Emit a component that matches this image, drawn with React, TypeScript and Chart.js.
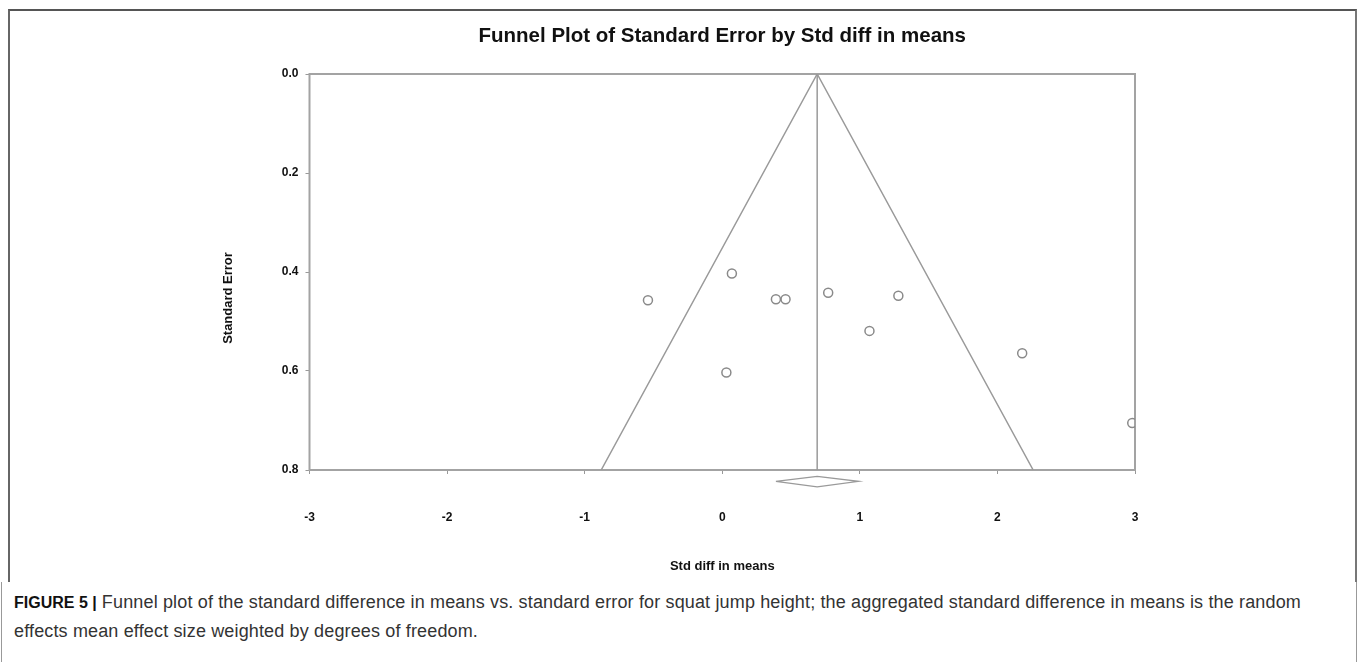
import React, { useEffect, useRef } from "react";
import { Chart, registerables } from "chart.js";
Chart.register(...registerables);

const chartTitle = "Funnel Plot of Standard Error by Std diff in means";
const xTitle = "Std diff in means";
const yTitle = "Standard Error";

const studyEffect = [-0.54, 0.07, 0.39, 0.46, 0.77, 1.28, 1.07, 2.18, 2.98, 0.03];
const studySE = [0.457, 0.403, 0.455, 0.455, 0.442, 0.448, 0.519, 0.564, 0.705, 0.603];

const funnelX = [-0.88, 0.69, 2.26];
const funnelY = [0.8, 0.0, 0.8];
const meanX = [0.69, 0.69];
const meanY = [0.0, 0.8];
const diamondX = [0.39, 0.69, 0.99, 0.69, 0.39];
const diamondY = [0.823, 0.813, 0.823, 0.834, 0.823];

const xTicks = [-3, -2, -1, 0, 1, 2, 3];
const yTicks = [0.0, 0.2, 0.4, 0.6, 0.8];

const pts = (xs: number[], ys: number[]) => xs.map((x, i) => ({ x, y: ys[i] }));

const framePlugin = {
  id: "frame",
  beforeDatasetsDraw(chart: any) {
    const { ctx, chartArea: a } = chart;
    ctx.save();
    ctx.strokeStyle = "#a3a3a3";
    ctx.lineWidth = 2;
    ctx.strokeRect(a.left, a.top, a.right - a.left, a.bottom - a.top);
    ctx.restore();
  },
  afterDraw(chart: any) {
    const { ctx } = chart;
    ctx.save();
    ctx.translate(219, 288);
    ctx.rotate(-Math.PI / 2);
    ctx.fillStyle = "#111";
    ctx.font = "bold 13px 'Liberation Sans', Arial, sans-serif";
    ctx.textAlign = "center";
    ctx.textBaseline = "middle";
    ctx.fillText(yTitle, 0, 0);
    ctx.restore();
  },
};

function FunnelChart() {
  const ref = useRef<HTMLCanvasElement | null>(null);
  useEffect(() => {
    if (!ref.current) return;
    const lineStyle = {
      showLine: true,
      pointRadius: 0,
      borderColor: "#9a9a9a",
      borderWidth: 1.5,
      backgroundColor: "transparent",
      tension: 0,
    };
    const chart = new Chart(ref.current, {
      type: "scatter",
      data: {
        datasets: [
          { label: "funnel", data: pts(funnelX, funnelY), ...lineStyle, order: 3 },
          { label: "mean", data: pts(meanX, meanY), ...lineStyle, order: 2 },
          { label: "diamond", data: pts(diamondX, diamondY), ...lineStyle, borderWidth: 1.3, clip: false as any, order: 1 },
          {
            label: "studies",
            data: pts(studyEffect, studySE),
            pointStyle: "circle",
            pointRadius: 4.5,
            borderColor: "#8a8a8a",
            borderWidth: 1.5,
            backgroundColor: "rgba(255,255,255,0)",
            showLine: false,
            order: 0,
          },
        ],
      },
      options: {
        animation: false,
        responsive: false,
        layout: { padding: { left: 200, right: 220, top: 0, bottom: 3 } },
        plugins: {
          legend: { display: false },
          tooltip: { enabled: false },
          title: {
            display: true,
            fullSize: false,
            text: chartTitle,
            color: "#111",
            font: { family: "'Liberation Sans', Arial, sans-serif", size: 20.5, weight: "bold", lineHeight: 1.2 },
            padding: { top: 14, bottom: 25.4 },
          },
        },
        scales: {
          x: {
            type: "linear",
            min: -3,
            max: 3,
            afterBuildTicks: (s: any) => { s.ticks = xTicks.map((v) => ({ value: v })); },
            afterFit: (s: any) => { s.height = 108; },
            border: { display: false },
            grid: { drawOnChartArea: false, drawTicks: true, tickLength: 4, color: "#999" },
            ticks: {
              padding: 36,
              color: "#111",
              font: { family: "'Liberation Sans', Arial, sans-serif", size: 12, weight: "bold" },
              callback: (v: any) => String(v),
            },
            title: {
              display: true,
              text: xTitle,
              color: "#111",
              font: { family: "'Liberation Sans', Arial, sans-serif", size: 13, weight: "bold", lineHeight: 1.2 },
              padding: { top: 0, bottom: 4 },
            },
          },
          y: {
            type: "linear",
            reverse: true,
            min: 0,
            max: 0.8,
            afterBuildTicks: (s: any) => { s.ticks = yTicks.map((v) => ({ value: v })); },
            afterFit: (s: any) => { s.width = 100.5; },
            border: { display: false },
            grid: { drawOnChartArea: false, drawTicks: true, tickLength: 4, color: "#999" },
            ticks: {
              padding: 7,
              color: "#111",
              font: { family: "'Liberation Sans', Arial, sans-serif", size: 12, weight: "bold" },
              callback: (v: any) => Number(v).toFixed(1),
            },
          },
        },
      },
      plugins: [framePlugin],
    } as any);
    return () => chart.destroy();
  }, []);
  return (
    <canvas
      ref={ref}
      width={1346}
      height={571}
      style={{ position: "absolute", left: 9, top: 10, width: 1346, height: 571 }}
    />
  );
}

export default function App() {
  useEffect(() => {
    document.body.style.margin = "0";
    document.documentElement.style.overflow = "hidden";
  }, []);
  return (
    <div style={{ position: "relative", height: 662, width: 1357, overflow: "hidden", background: "#fff" }}>
      <div
        style={{
          position: "absolute",
          left: 8,
          top: 9,
          width: 1349,
          height: 573,
          boxSizing: "border-box",
          borderTop: "2px solid #555",
          borderLeft: "2px solid #666",
          borderRight: "2px solid #777",
        }}
      />
      <FunnelChart />
      <div
        style={{
          position: "absolute",
          left: 1,
          top: 582,
          width: 1356,
          height: 80,
          boxSizing: "border-box",
          borderLeft: "1px solid #999",
          borderRight: "1px solid #999",
        }}
      />
      <div
        style={{
          position: "absolute",
          left: 14,
          top: 588,
          width: 1320,
          fontFamily: "'Liberation Sans', Arial, sans-serif",
          fontSize: 18,
          letterSpacing: "0.15px",
          lineHeight: "28px",
          color: "#333",
        }}
      >
        <b style={{ color: "#111", fontSize: 16, letterSpacing: 0 }}>FIGURE 5 |</b> Funnel plot of the standard difference in means vs. standard error for squat jump height; the aggregated standard difference in means is the random effects mean effect size weighted by degrees of freedom.
      </div>
    </div>
  );
}
